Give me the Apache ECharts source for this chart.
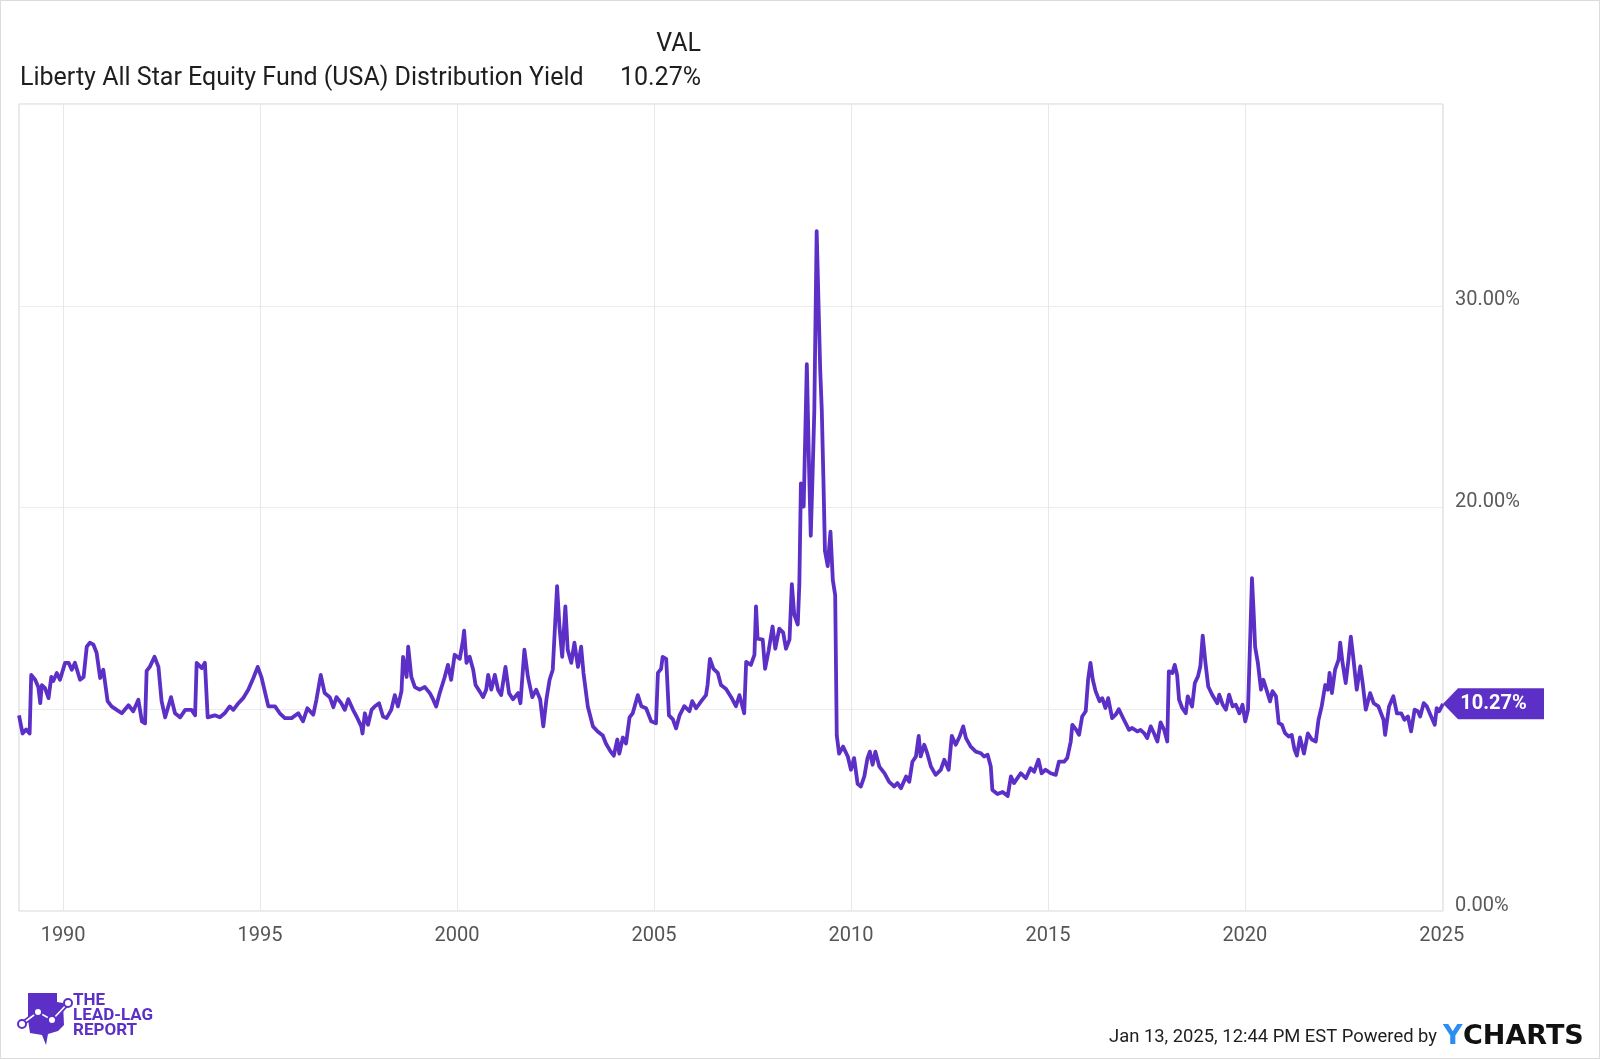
<!DOCTYPE html>
<html>
<head>
<meta charset="utf-8">
<style>
html,body{margin:0;padding:0;background:#fff;}
#wrap{position:relative;width:1600px;height:1059px;}
#chart{position:absolute;left:0;top:0;width:1600px;height:1059px;}
#frame{position:absolute;left:0;top:0;width:1600px;height:1059px;box-sizing:border-box;border:1px solid #dcdcdc;pointer-events:none;}
</style>
<script src="https://cdn.jsdelivr.net/npm/echarts@6.0.0/dist/echarts.min.js"></script>
</head>
<body>
<div id="wrap"><div id="chart"></div><div id="frame"></div></div>
<script>
// ---- data (decimal year, distribution yield %) ----
const years = [
1988.88,1988.93,1988.97,1989.06,1989.15,1989.19,1989.29,1989.37,1989.42,1989.46,1989.54,1989.63,1989.70,1989.75,1989.84,1989.92,
1990.05,1990.14,1990.22,1990.30,1990.43,1990.52,1990.60,1990.68,1990.77,1990.85,1990.94,
1991.02,1991.13,1991.23,1991.36,1991.49,1991.66,1991.78,1991.91,
1992.00,1992.08,1992.12,1992.20,1992.32,1992.42,1992.50,1992.59,1992.74,1992.84,1992.97,
1993.10,1993.26,1993.35,1993.39,1993.52,1993.60,1993.67,1993.85,1993.98,
1994.10,1994.23,1994.32,1994.45,1994.57,1994.70,1994.83,1994.94,
1995.04,1995.21,1995.38,1995.50,1995.63,1995.80,1995.97,
1996.09,1996.20,1996.35,1996.43,1996.54,1996.64,1996.77,1996.86,1996.94,
1997.06,1997.15,1997.24,1997.36,1997.45,1997.57,1997.60,1997.66,1997.74,1997.83,1997.91,
1998.02,1998.12,1998.21,1998.33,1998.42,1998.50,1998.59,1998.63,1998.72,1998.76,1998.84,1998.93,
1999.05,1999.18,1999.31,1999.39,1999.47,1999.56,1999.68,1999.77,1999.85,1999.94,
2000.07,2000.15,2000.18,2000.24,2000.32,2000.41,2000.47,2000.57,2000.66,2000.74,2000.79,2000.87,2000.96,
2001.04,2001.12,2001.23,2001.32,2001.42,2001.55,2001.61,2001.71,2001.80,2001.91,
2002.01,2002.11,2002.19,2002.27,2002.35,2002.43,2002.54,2002.60,2002.67,2002.75,2002.81,2002.90,2002.98,
2003.07,2003.15,2003.21,2003.32,2003.45,2003.57,2003.70,2003.78,2003.90,2003.98,
2004.07,2004.12,2004.21,2004.29,2004.38,2004.46,2004.59,2004.68,2004.80,2004.93,
2005.05,2005.10,2005.18,2005.22,2005.31,2005.38,2005.48,2005.56,2005.65,2005.77,2005.90,2005.97,
2006.07,2006.20,2006.32,2006.36,2006.42,2006.51,2006.62,2006.70,2006.83,2006.96,
2007.08,2007.17,2007.29,2007.34,2007.46,2007.55,2007.59,2007.63,2007.76,2007.82,2007.91,
2008.01,2008.08,2008.18,2008.28,2008.35,2008.44,2008.50,2008.56,2008.65,2008.69,2008.73,2008.80,2008.88,2008.94,2008.98,
2009.03,2009.07,2009.13,2009.18,2009.22,2009.26,2009.30,2009.34,2009.41,2009.48,2009.54,2009.60,2009.64,2009.70,2009.80,2009.92,
2010.00,2010.08,2010.17,2010.25,2010.34,2010.42,2010.48,2010.55,2010.62,2010.72,2010.85,2010.97,
2011.10,2011.18,2011.27,2011.40,2011.48,2011.56,2011.65,2011.72,2011.77,2011.86,2011.94,
2012.03,2012.15,2012.28,2012.37,2012.48,2012.56,2012.66,2012.76,2012.85,2012.92,
2013.04,2013.17,2013.30,2013.38,2013.47,2013.55,2013.59,2013.72,2013.85,2013.98,
2014.06,2014.14,2014.31,2014.44,2014.56,2014.65,2014.76,2014.84,2014.94,
2015.07,2015.20,2015.28,2015.41,2015.49,2015.58,2015.62,2015.72,2015.79,2015.87,2015.96,
2016.02,2016.08,2016.14,2016.21,2016.31,2016.38,2016.46,2016.53,2016.63,2016.72,2016.80,2016.93,
2017.06,2017.14,2017.27,2017.35,2017.44,2017.52,2017.61,2017.69,2017.78,2017.86,2017.95,
2018.03,2018.07,2018.16,2018.22,2018.28,2018.33,2018.41,2018.50,2018.55,2018.66,2018.73,2018.81,2018.87,2018.93,
2019.00,2019.07,2019.17,2019.30,2019.35,2019.44,2019.52,2019.60,2019.69,2019.77,2019.86,2019.94,
2020.01,2020.08,2020.14,2020.18,2020.22,2020.26,2020.33,2020.41,2020.47,2020.56,2020.64,2020.70,2020.79,2020.86,2020.94,
2021.02,2021.11,2021.19,2021.26,2021.32,2021.40,2021.50,2021.60,2021.70,2021.80,2021.87,2021.95,
2022.04,2022.11,2022.15,2022.21,2022.29,2022.38,2022.42,2022.48,2022.56,2022.63,2022.69,2022.75,2022.84,2022.93,2022.99,
2023.07,2023.18,2023.27,2023.39,2023.52,2023.56,2023.66,2023.77,2023.86,2023.97,
2024.05,2024.14,2024.22,2024.31,2024.39,2024.45,2024.54,2024.62,2024.71,2024.82,2024.87,2024.93,2025.03
];
const yieldPct = [
9.7,9.2,8.8,9.0,8.8,11.7,11.46,11.1,10.3,11.2,11.05,10.55,11.6,11.4,11.8,11.46,
12.3,12.3,11.96,12.3,11.46,11.6,13.1,13.3,13.2,12.8,11.55,
11.96,10.4,10.14,9.97,9.8,10.2,9.9,10.47,
9.4,9.3,11.9,12.1,12.6,12.1,10.4,9.6,10.6,9.8,9.6,
9.97,9.97,9.7,12.3,12.04,12.3,9.6,9.7,9.6,
9.8,10.14,9.97,10.3,10.55,10.97,11.55,12.1,
11.55,10.14,10.14,9.8,9.56,9.56,9.8,
9.4,10.05,9.73,10.47,11.7,10.8,10.6,10.1,10.6,
10.3,9.97,10.5,9.97,9.64,9.15,8.8,9.8,9.23,9.97,10.14,
10.3,9.64,9.56,9.97,10.7,10.14,10.9,12.6,11.6,13.1,11.6,11.1,
10.97,11.1,10.8,10.5,10.14,10.8,11.55,12.2,11.46,12.7,
12.5,13.4,13.9,12.3,12.6,11.96,11.2,10.9,10.6,10.97,11.7,10.97,11.7,
10.97,10.7,12.1,10.8,10.5,10.8,10.3,12.95,11.6,10.6,
10.97,10.5,9.15,10.5,11.46,11.96,16.1,14.1,12.6,15.1,12.95,12.3,13.3,
12.1,13.1,11.8,10.14,9.15,8.9,8.7,8.3,7.9,7.7,
8.5,7.8,8.6,8.3,9.6,9.8,10.7,10.15,10.05,9.4,
9.3,11.8,12.0,12.6,12.5,9.7,9.5,9.05,9.7,10.15,9.9,10.4,
10.05,10.4,10.7,11.2,12.5,12.0,11.8,11.2,11.0,10.6,
10.15,10.7,9.8,12.35,12.2,12.7,15.1,13.5,13.45,12.0,12.9,
14.1,13.0,14.0,13.8,13.0,13.45,16.2,14.7,14.2,16.2,21.2,20.05,27.1,21.7,18.6,
21.9,24.8,33.7,33.7,26.8,24.8,21.5,17.85,17.1,18.8,16.4,15.65,8.7,7.8,8.15,7.66,
7.0,7.58,6.3,6.17,6.67,7.58,7.9,7.25,7.9,7.16,6.83,6.4,
6.17,6.34,6.09,6.67,6.4,7.4,7.66,8.68,7.66,8.24,7.8,
7.16,6.75,7.0,7.5,7.0,8.68,8.24,8.65,9.15,8.57,
8.15,7.9,7.82,7.66,7.74,7.16,6.0,5.8,5.9,5.7,
6.67,6.34,6.83,6.58,7.08,6.9,7.5,6.83,7.0,
6.83,6.75,7.4,7.4,7.58,8.4,9.23,8.98,8.73,9.64,9.9,
11.46,12.3,11.46,10.9,10.4,10.55,10.06,10.55,9.56,9.73,10.0,9.48,
8.98,9.07,8.9,8.98,8.82,8.57,9.15,8.82,8.4,9.35,8.98,
8.4,11.88,11.8,12.2,11.7,10.47,10.06,9.8,10.64,10.14,11.3,11.63,12.13,13.65,
12.3,11.13,10.72,10.3,10.72,10.22,9.98,10.72,10.14,10.22,9.8,10.22,
9.4,9.98,13.8,16.5,14.94,13.1,12.3,10.97,11.46,10.9,10.39,10.9,10.64,9.31,9.23,
8.82,8.65,8.73,8.0,7.7,8.6,7.8,8.8,8.5,8.4,9.48,10.14,
11.2,10.97,11.8,10.8,11.96,12.46,13.3,12.3,11.3,12.46,13.6,12.6,10.97,12.13,11.3,
9.98,10.8,10.3,10.14,9.48,8.73,10.14,10.64,9.8,9.8,
9.48,9.64,8.9,9.98,9.9,9.64,10.3,10.14,9.73,9.23,10.06,9.9,10.27
];
const xTickYears = [1990,1995,2000,2005,2010,2015,2020,2025];
const yHiddenLabels = [10,40];
const seriesName = 'Liberty All Star Equity Fund (USA) Distribution Yield';
const ticker = 'VAL';
const lastValueText = '10.27%';
const stampText = 'Jan 13, 2025, 12:44 PM EST Powered by';

const PURPLE = '#5c30c6';
const seriesData = years.map((y, i) => [y, yieldPct[i]]);
const last = seriesData[seriesData.length - 1];

const chart = echarts.init(document.getElementById('chart'), null, {renderer: 'canvas'});
chart.setOption({
  animation: false,
  backgroundColor: '#fff',
  textStyle: {fontFamily: 'Roboto'},
  grid: {left: 19, right: 157, top: 104, bottom: 148, show: true, borderColor: '#d6d6d6', borderWidth: 1, backgroundColor: 'transparent'},
  xAxis: {
    type: 'value', min: 1988.88, max: 2025.03,
    axisLine: {show: false},
    axisTick: {show: false, customValues: xTickYears},
    axisLabel: {customValues: xTickYears, color: '#555', fontSize: 20, fontFamily: 'Roboto', margin: 15, formatter: v => String(Math.round(v))},
    splitLine: {show: true, lineStyle: {color: '#e8e8e8', width: 1}}
  },
  yAxis: {
    type: 'value', position: 'right', min: 0, max: 40, interval: 10,
    axisLine: {show: false}, axisTick: {show: false},
    axisLabel: {color: '#5a5a5a', fontSize: 20, fontFamily: 'Roboto', margin: 12, verticalAlign: 'bottom', lineHeight: 11,
      formatter: v => yHiddenLabels.includes(v) ? '' : v.toFixed(2) + '%'},
    splitLine: {show: true, lineStyle: {color: '#ececec', width: 1}}
  },
  series: [{
    type: 'line', name: seriesName, data: seriesData, showSymbol: false, symbol: 'none',
    lineStyle: {color: PURPLE, width: 3.8, join: 'round'}, itemStyle: {color: PURPLE},
    clip: false,
    markPoint: {
      symbol: 'path://M0,15.5L15,0L101,0L101,31L15,31Z',
      symbolSize: [101, 31], symbolKeepAspect: false, symbolOffset: [50.5, 0],
      itemStyle: {color: PURPLE},
      label: {show: true, position: 'inside', color: '#fff', fontSize: 20, fontWeight: 'bold', fontFamily: 'Roboto', formatter: () => lastValueText},
      data: [{coord: last, value: last[1]}]
    }
  }],
  graphic: [
    {type: 'text', x: 701, y: 45, style: {text: ticker, fill: '#1e1e1e', font: '25px Roboto', textAlign: 'right', textVerticalAlign: 'middle'}},
    {type: 'text', x: 20, y: 79, style: {text: seriesName, fill: '#1e1e1e', font: '25px Roboto', textAlign: 'left', textVerticalAlign: 'middle'}},
    {type: 'text', x: 701, y: 79, style: {text: lastValueText, fill: '#1e1e1e', font: '25px Roboto', textAlign: 'right', textVerticalAlign: 'middle'}},
    {type: 'text', x: 1437, y: 1037, style: {text: stampText, fill: '#1e1e1e', font: '18.4px Roboto', textAlign: 'right', textVerticalAlign: 'middle'}},
    {type: 'text', x: 1443, y: 1037, style: {text: 'Y', fill: '#2b8ef0', font: 'bold 27px "DejaVu Sans"', textAlign: 'left', textVerticalAlign: 'middle'}},
    {type: 'text', x: 1463, y: 1037, style: {text: 'CHARTS', fill: '#111', font: 'bold 27px "DejaVu Sans"', textAlign: 'left', textVerticalAlign: 'middle'}},
    // logo
    {type: 'polygon', shape: {points: [[28,993],[57,993],[57,1002],[63,1003],[64,1025],[58,1031],[48,1034],[46,1045],[42,1035],[30,1033],[28,1020]]}, style: {fill: PURPLE}},
    {type: 'polyline', shape: {points: [[22,1024],[38,1012],[52,1020],[68,1003]]}, style: {stroke: PURPLE, lineWidth: 5, fill: null}},
    {type: 'polyline', shape: {points: [[22,1024],[38,1012],[52,1020],[68,1003]]}, style: {stroke: '#fff', lineWidth: 1.6, fill: null}},
    {type: 'circle', shape: {cx: 22, cy: 1024, r: 4}, style: {fill: '#fff', stroke: PURPLE, lineWidth: 2}},
    {type: 'circle', shape: {cx: 38, cy: 1012, r: 4}, style: {fill: '#fff', stroke: PURPLE, lineWidth: 2}},
    {type: 'circle', shape: {cx: 52, cy: 1020, r: 4}, style: {fill: '#fff', stroke: PURPLE, lineWidth: 2}},
    {type: 'circle', shape: {cx: 68, cy: 1003, r: 4}, style: {fill: '#fff', stroke: PURPLE, lineWidth: 2}},
    {type: 'text', x: 73, y: 1001, style: {text: 'THE', fill: PURPLE, font: 'bold 17px Roboto', textVerticalAlign: 'middle'}},
    {type: 'text', x: 73, y: 1016, style: {text: 'LEAD-LAG', fill: PURPLE, font: 'bold 17px Roboto', textVerticalAlign: 'middle'}},
    {type: 'text', x: 73, y: 1031, style: {text: 'REPORT', fill: PURPLE, font: 'bold 17px Roboto', textVerticalAlign: 'middle'}}
  ]
});
</script>
</body>
</html>
